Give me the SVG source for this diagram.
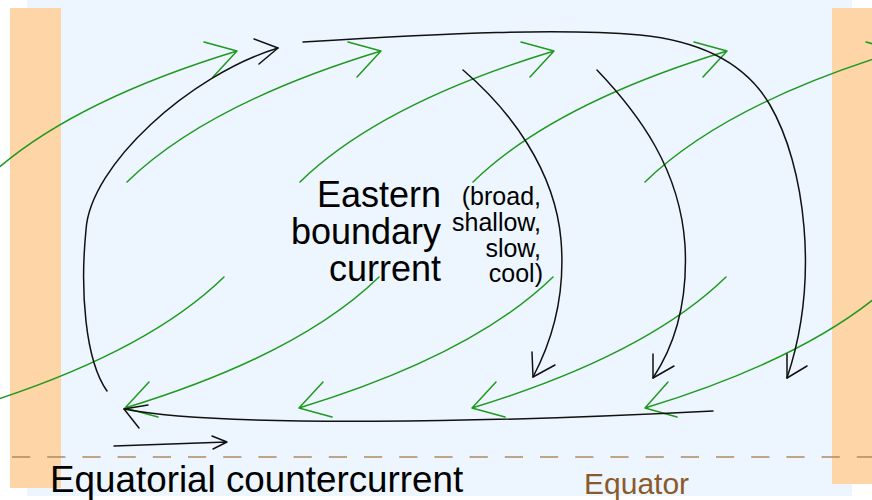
<svg xmlns="http://www.w3.org/2000/svg" width="872" height="500" viewBox="0 0 872 500">
<style>
.sea{fill:#edf6fe}
.land{fill:#fdd5a6}
.blk{fill:none;stroke:#111;stroke-width:1.5;stroke-linecap:round;stroke-linejoin:round}
.grn{fill:none;stroke:#1f991f;stroke-width:1.5;stroke-linecap:round;stroke-linejoin:round}
.eq{fill:none;stroke:#b08b62;stroke-width:1.5;stroke-dasharray:18.2 17}
.lbl{font-family:"Liberation Sans",Arial,Helvetica,sans-serif;fill:#000}
</style>
<rect width="872" height="500" fill="#fff"/>
<g id="ocean"><rect class="sea" x="27" y="0" width="825" height="496"/></g>
<g id="west-coast"><rect class="land" x="10" y="8" width="51" height="480"/></g>
<g id="east-coast"><rect class="land" x="832" y="8" width="40" height="476"/></g>
<g id="equator-line"><line class="eq" x1="12" y1="457" x2="872" y2="457"/></g>
<g id="connectors">
  <g id="winds">
    <path class="grn" d="M-17,182 q80,-78 254,-131 M204,42 L237,51 L213,77"/>
    <path class="grn" d="M127,182 q80,-78 254,-131 M348,42 L381,51 L357,77"/>
    <path class="grn" d="M300,182 q80,-78 254,-131 M521,42 L554,51 L530,77"/>
    <path class="grn" d="M473,182 q80,-78 254,-131 M694,42 L727,51 L703,77"/>
    <path class="grn" d="M645,182 q80,-78 254,-131 M866,42 L899,51 L875,77"/>
    <path class="grn" d="M224,277 q-80,78 -254,131"/>
    <path class="grn" d="M379,277 q-80,78 -254,131 M158,417 L125,408 L149,382"/>
    <path class="grn" d="M553,277 q-80,78 -254,131 M332,417 L299,408 L323,382"/>
    <path class="grn" d="M726,277 q-80,78 -254,131 M505,417 L472,408 L496,382"/>
    <path class="grn" d="M899,277 q-80,78 -254,131 M677,417 L645,408 L668,382"/>
  </g>
  <g id="currents">
    <path class="blk" d="M107,391 C85,360 80,290 86,230 C90,165 190,75 278,48"/>
    <path class="blk" d="M254,39 L278,48 L259,64"/>
    <path class="blk" d="M303,42 C450,33 560,28 640,35 C700,41 745,62 770,105 C805,165 820,280 787,378"/>
    <path class="blk" d="M787,354 L787,378 L807,366"/>
    <path class="blk" d="M463,70 C510,110 555,170 561,240 C566,300 550,345 533,377"/>
    <path class="blk" d="M532,352 L533,377 L555,365"/>
    <path class="blk" d="M597,70 C640,115 680,170 685,245 C688,300 675,345 653,378"/>
    <path class="blk" d="M653,354 L653,378 L674,366"/>
    <path class="blk" d="M713,411 C500,422 220,428 124,409"/>
    <path class="blk" d="M148,405 L124,409 L139,428"/>
    <path class="blk" d="M114,446 L227,442 M212,436 L227,442 L213,449"/>
  </g>
</g>
<g id="label-ebc">
  <text class="lbl" font-size="36" text-anchor="end"><tspan x="441" y="206.5">Eastern</tspan><tspan x="441" y="243.5">boundary</tspan><tspan x="441" y="280.5">current</tspan></text>
</g>
<g id="label-ebc-detail">
  <text class="lbl" font-size="25" text-anchor="end"><tspan x="541" y="205">(broad,</tspan><tspan x="541" y="231">shallow,</tspan><tspan x="541" y="257">slow,</tspan><tspan x="543" y="282">cool)</tspan></text>
</g>
<g id="label-ecc"><text class="lbl" font-size="36.8" x="50" y="491.5">Equatorial countercurrent</text></g>
<g id="label-equator"><text class="lbl" font-size="30" x="584" y="494" style="fill:#8b5a2b">Equator</text></g>
</svg>
